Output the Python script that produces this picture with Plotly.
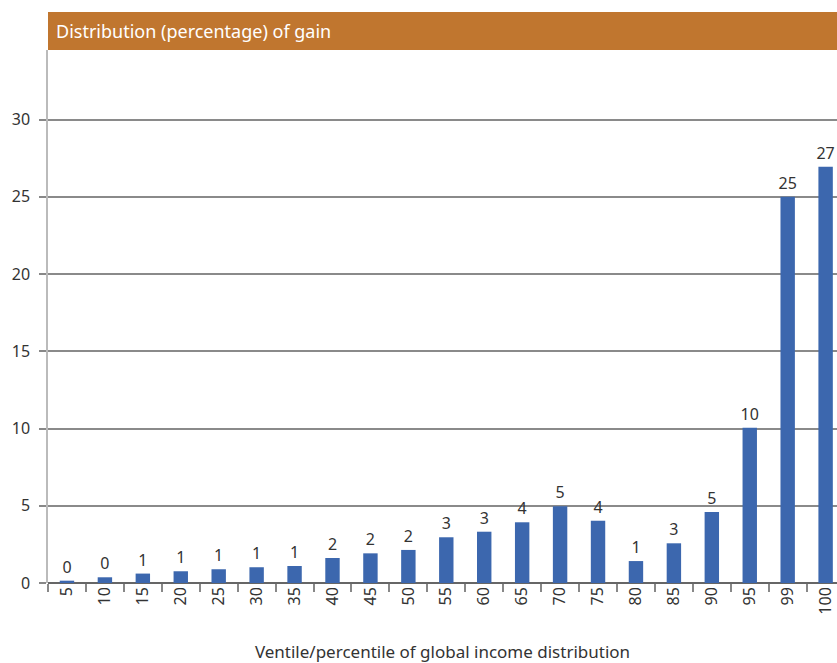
import plotly.graph_objects as go

categories = ["5", "10", "15", "20", "25", "30", "35", "40", "45", "50", "55",
              "60", "65", "70", "75", "80", "85", "90", "95", "99", "100"]
gain_share = [0.15, 0.37, 0.61, 0.76, 0.89, 1.02, 1.1, 1.62, 1.92, 2.14, 2.96,
              3.32, 3.93, 4.96, 4.03, 1.42, 2.57, 4.6, 10.05, 25.0, 26.95]
y_ticks = [0, 5, 10, 15, 20, 25, 30]

title_text = "Distribution (percentage) of gain"
x_title = "Ventile/percentile of global income distribution"

W, H = 837, 663
ml, mr, mt, mb = 48, 0, 50, 80
plot_h = H - mt - mb

FONT = "Noto Sans, sans-serif"

fig = go.Figure(go.Bar(
    x=categories, y=gain_share,
    marker=dict(color="#3C67AE", line=dict(width=0)),
    texttemplate="%{y:.0f}", textposition="outside",
    textfont=dict(size=16, color="#333333", family=FONT),
    cliponaxis=False, constraintext="none",
))

fig.update_layout(
    width=W, height=H,
    margin=dict(l=ml, r=mr, t=mt, b=mb, autoexpand=False),
    paper_bgcolor="white", plot_bgcolor="white",
    bargap=0.62, showlegend=False,
    font=dict(family=FONT, color="#333333", size=16),
    xaxis=dict(
        type="category", range=[-0.5, 20.3], automargin=False,
        tickangle=-90, tickson="boundaries", ticks="outside", ticklen=8,
        tickcolor="#888888", tickwidth=1.5,
        showline=False, showgrid=False,
        tickfont=dict(size=16, color="#333333"),
        title=dict(text=x_title, font=dict(size=17, color="#333333"), standoff=32),
    ),
    yaxis=dict(
        range=[0, 34.5], tickvals=y_ticks, ticks="outside", ticklen=7,
        automargin=False, ticklabelstandoff=6,
        tickcolor="#888888", tickwidth=1.5,
        showgrid=True, gridcolor="#8a8a8a", gridwidth=1.5,
        zeroline=True, zerolinecolor="#666666", zerolinewidth=1.5,
        showline=True, linecolor="#bbbbbb", linewidth=1.5,
        tickfont=dict(size=16, color="#333333"),
    ),
)

hdr = 38 / plot_h
fig.add_shape(type="rect", xref="paper", yref="paper",
              x0=0, x1=1, y0=1, y1=1 + hdr,
              fillcolor="#C0762F", line=dict(width=0), layer="above")
fig.add_annotation(text=title_text, xref="paper", yref="paper",
                   x=0.008, y=1 + hdr / 2, xanchor="left", yanchor="middle",
                   showarrow=False,
                   font=dict(size=18, color="white", family=FONT))

fig.write_html("out.html", config={"displayModeBar": False},
               post_script="document.body.style.margin='0';document.body.style.overflow='hidden';")
